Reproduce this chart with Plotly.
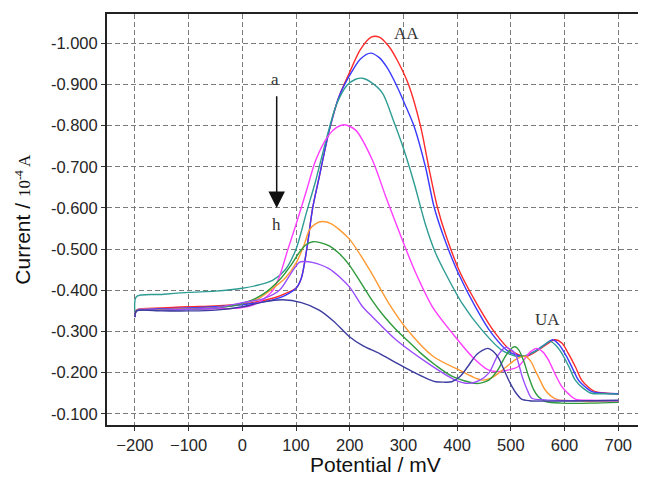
import plotly.graph_objects as go

# ---- data (potential in mV, current in 1e-4 A) ----
a_x = [-200, -197, -150, -100, -50, 0, 30, 60, 80, 100, 110, 120, 131, 142, 162, 180, 199, 220, 240, 255, 273, 290, 310, 332, 347, 363, 380, 406, 440, 471, 499, 527, 551, 568, 582, 595, 607, 620, 632, 645, 657, 680, 700]
a_y = [-0.335, -0.352, -0.357, -0.360, -0.362, -0.367, -0.373, -0.382, -0.392, -0.405, -0.43, -0.50, -0.60, -0.668, -0.789, -0.87, -0.927, -0.985, -1.015, -1.015, -0.992, -0.955, -0.898, -0.798, -0.700, -0.603, -0.530, -0.442, -0.360, -0.296, -0.255, -0.239, -0.255, -0.270, -0.280, -0.272, -0.247, -0.215, -0.182, -0.164, -0.154, -0.150, -0.148]

b_x = [-200, -197, -150, -100, -50, 0, 30, 60, 80, 100, 110, 120, 131, 142, 162, 180, 199, 220, 239, 255, 270, 287, 305, 320, 341, 357, 375, 402, 434, 464, 496, 525, 548, 565, 578, 590, 604, 615, 626, 640, 651, 675, 700]
b_y = [-0.335, -0.352, -0.355, -0.357, -0.360, -0.365, -0.370, -0.378, -0.388, -0.405, -0.43, -0.50, -0.60, -0.668, -0.789, -0.87, -0.920, -0.962, -0.976, -0.965, -0.94, -0.898, -0.845, -0.798, -0.700, -0.603, -0.530, -0.442, -0.360, -0.296, -0.251, -0.240, -0.255, -0.270, -0.280, -0.268, -0.239, -0.210, -0.182, -0.164, -0.154, -0.150, -0.149]

c_x = [-200, -197, -150, -100, -50, 0, 30, 57, 80, 100, 119, 137, 155, 175, 195, 210, 224, 240, 261, 282, 300, 320, 341, 360, 378, 409, 446, 483, 515, 545, 560, 573, 585, 595, 608, 620, 635, 650, 675, 700]
c_y = [-0.345, -0.385, -0.390, -0.395, -0.398, -0.405, -0.413, -0.425, -0.45, -0.50, -0.587, -0.668, -0.76, -0.85, -0.898, -0.912, -0.915, -0.905, -0.879, -0.81, -0.745, -0.66, -0.56, -0.49, -0.442, -0.369, -0.304, -0.255, -0.239, -0.251, -0.265, -0.276, -0.265, -0.247, -0.215, -0.182, -0.162, -0.150, -0.149, -0.148]

d_x = [-200, -197, -150, -100, -50, 0, 30, 57, 69, 85, 100, 119, 137, 160, 175, 190, 211, 242, 267, 298, 323, 354, 391, 428, 459, 471, 490, 514, 536, 548, 560, 570, 583, 595, 608, 620, 650, 700]
d_y = [-0.335, -0.352, -0.353, -0.354, -0.355, -0.358, -0.370, -0.40, -0.433, -0.50, -0.56, -0.64, -0.717, -0.775, -0.795, -0.802, -0.789, -0.717, -0.628, -0.522, -0.442, -0.360, -0.296, -0.239, -0.206, -0.203, -0.205, -0.215, -0.250, -0.259, -0.250, -0.231, -0.195, -0.166, -0.148, -0.136, -0.133, -0.132]

e_x = [-200, -197, -150, -100, -50, 0, 30, 57, 80, 100, 115, 125, 137, 149, 165, 199, 236, 273, 310, 355, 409, 434, 448, 465, 477, 495, 508, 518, 527, 537, 545, 555, 564, 576, 589, 620, 650, 700]
e_y = [-0.335, -0.352, -0.353, -0.355, -0.358, -0.368, -0.380, -0.405, -0.43, -0.466, -0.51, -0.547, -0.562, -0.567, -0.562, -0.525, -0.452, -0.368, -0.300, -0.240, -0.203, -0.187, -0.182, -0.188, -0.199, -0.218, -0.231, -0.238, -0.240, -0.228, -0.207, -0.180, -0.158, -0.142, -0.134, -0.132, -0.130, -0.132]

f_x = [-200, -197, -150, -100, -50, 0, 38, 69, 90, 105, 118, 131, 145, 162, 180, 199, 220, 242, 262, 286, 310, 330, 360, 391, 434, 447, 459, 475, 490, 502, 508, 515, 525, 533, 542, 551, 565, 595, 650, 700]
f_y = [-0.335, -0.350, -0.352, -0.354, -0.357, -0.368, -0.390, -0.425, -0.46, -0.49, -0.51, -0.518, -0.516, -0.508, -0.49, -0.462, -0.42, -0.375, -0.340, -0.305, -0.275, -0.250, -0.218, -0.191, -0.174, -0.176, -0.182, -0.205, -0.240, -0.260, -0.263, -0.255, -0.225, -0.191, -0.160, -0.142, -0.130, -0.126, -0.126, -0.128]

g_x = [-200, -197, -150, -100, -50, 0, 40, 69, 90, 106, 115, 130, 162, 199, 224, 242, 286, 348, 397, 421, 440, 459, 475, 490, 500, 508, 515, 521, 530, 539, 564, 650, 700]
g_y = [-0.335, -0.350, -0.352, -0.354, -0.357, -0.370, -0.380, -0.400, -0.440, -0.468, -0.470, -0.468, -0.452, -0.409, -0.360, -0.336, -0.280, -0.221, -0.182, -0.174, -0.180, -0.199, -0.240, -0.262, -0.256, -0.247, -0.220, -0.191, -0.160, -0.138, -0.134, -0.132, -0.132]

h_x = [-200, -197, -150, -100, -50, 0, 40, 75, 110, 143, 170, 199, 225, 255, 285, 316, 340, 360, 375, 390, 405, 420, 437, 457, 467, 477, 488, 499, 510, 520, 535, 564, 650, 700]
h_y = [-0.335, -0.350, -0.350, -0.350, -0.352, -0.360, -0.372, -0.377, -0.370, -0.352, -0.325, -0.288, -0.265, -0.247, -0.225, -0.203, -0.188, -0.178, -0.177, -0.178, -0.190, -0.215, -0.245, -0.259, -0.252, -0.236, -0.205, -0.174, -0.150, -0.136, -0.132, -0.131, -0.132, -0.133]

series_names = ["a", "b", "c", "d", "e", "f", "g", "h"]
series_x = [a_x, b_x, c_x, d_x, e_x, f_x, g_x, h_x]
series_y = [a_y, b_y, c_y, d_y, e_y, f_y, g_y, h_y]
series_colors = ["#ff2a2a", "#3a3aff", "#2f9c94", "#ff3cff", "#ff9a33", "#2f9a3c", "#9a4cff", "#3c3ca0"]

x_ticks = [-200, -100, 0, 100, 200, 300, 400, 500, 600, 700]
y_ticks = [-1.0, -0.9, -0.8, -0.7, -0.6, -0.5, -0.4, -0.3, -0.2, -0.1]
y_ticktext = ["-1.000", "-0.900", "-0.800", "-0.700", "-0.600", "-0.500", "-0.400", "-0.300", "-0.200", "-0.100"]

fig = go.Figure()
for name, xs, ys, col in zip(series_names, series_x, series_y, series_colors):
    fig.add_trace(go.Scatter(x=xs, y=ys, mode="lines", name=name,
                             line=dict(color=col, width=1.4, shape="spline", smoothing=0.8)))

tick_font = dict(family="Liberation Sans, Arial, sans-serif", size=16.5, color="#262626")
fig.update_layout(
    width=638, height=471,
    margin=dict(l=99, r=0, t=6, b=54),
    paper_bgcolor="white", plot_bgcolor="white",
    showlegend=False,
    xaxis=dict(range=[-252, 748], tickvals=x_ticks, tickfont=tick_font,
               showgrid=True, gridcolor="#7a7a7a", gridwidth=1.3, griddash="5px,3px",
               showline=True, linecolor="#222222", linewidth=2, mirror=True,
               ticks="outside", ticklen=4, tickcolor="#333333", zeroline=False),
    yaxis=dict(range=[-0.073, -1.071], tickvals=y_ticks, ticktext=y_ticktext, tickfont=tick_font,
               showgrid=True, gridcolor="#7a7a7a", gridwidth=1.3, griddash="5px,3px",
               showline=True, linecolor="#222222", linewidth=2, mirror=True,
               ticks="outside", ticklen=4, tickcolor="#333333", zeroline=False),
)

serif = dict(family="Liberation Serif, Times New Roman, serif", size=17, color="#333333")
fig.add_annotation(x=306, y=-1.023, text="AA", showarrow=False, font=serif)
fig.add_annotation(x=568, y=-0.328, text="UA", showarrow=False, font=serif)
fig.add_annotation(x=60, y=-0.911, text="a", showarrow=False, font=serif)
fig.add_annotation(x=63, y=-0.561, text="h", showarrow=False, font=serif)
fig.add_annotation(x=64, y=-0.600, ax=64, ay=-0.875, xref="x", yref="y", axref="x", ayref="y",
                   text="", showarrow=True, arrowhead=2, arrowsize=2.2, arrowwidth=1.5, arrowcolor="#111111")

fig.add_annotation(xref="paper", yref="paper", x=0.50, y=-0.097, yanchor="middle",
                   text="Potential / mV", showarrow=False,
                   font=dict(family="Liberation Sans, Arial, sans-serif", size=21, color="#111111"))
fig.add_annotation(xref="paper", yref="paper", x=-0.158, y=0.5, xanchor="center", yanchor="middle",
                   textangle=-90, showarrow=False,
                   text="Current / <span style='font-family:Liberation Serif, serif;font-size:17px'>10<sup>-4</sup> A</span>",
                   font=dict(family="Liberation Sans, Arial, sans-serif", size=21, color="#111111"))

fig.write_html("out.html")
